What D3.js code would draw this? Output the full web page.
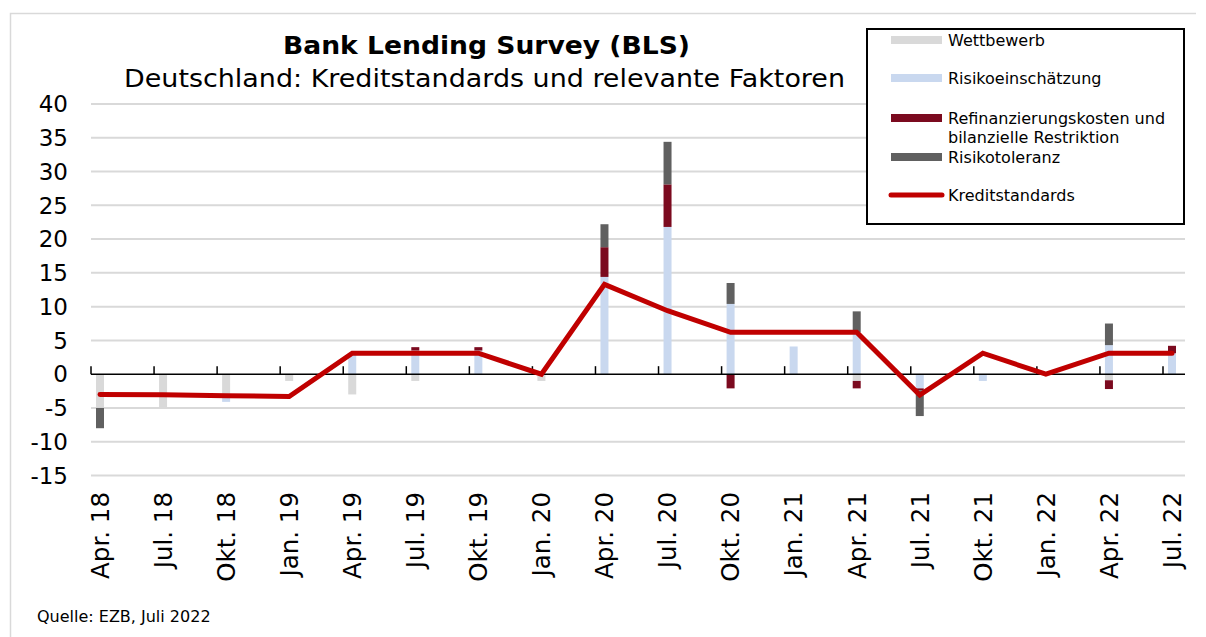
<!DOCTYPE html>
<html>
<head>
<meta charset="utf-8">
<title>Bank Lending Survey</title>
<style>
body { margin: 0; background: #fff; }
text { font-family: Verdana, "DejaVu Sans", sans-serif; fill: #000; }
</style>
</head>
<body>
<script src="https://cdn.jsdelivr.net/npm/d3@7/dist/d3.min.js"></script>
<script>

var categories = ["Apr. 18", "Jul. 18", "Okt. 18", "Jan. 19", "Apr. 19", "Jul. 19", "Okt. 19", "Jan. 20", "Apr. 20",
                  "Jul. 20", "Okt. 20", "Jan. 21", "Apr. 21", "Jul. 21", "Okt. 21", "Jan. 22", "Apr. 22", "Jul. 22"];

var wettbewerb      = [-5, -5, -3.5, -1, -3, -1, 0, -1, 0, 0, 0, 0, -1, 0, 0, 0, -0.9, 0];
var risikoeinsch    = [0, 0, -0.6, 0, 3.1, 3.5, 3.5, 0, 14.4, 21.8, 10.4, 4.1, 6.2, -2.1, -1, 0, 4.3, 3.1];
var refinanzierung  = [0, 0, 0, 0, 0, 0.5, 0.5, 0, 4.4, 6.3, -2.1, 0, -1.1, -0.3, 0, 0, -1.3, 1.1];
var risikotoleranz  = [-3, 0, 0, 0, 0, 0, 0, 0, 3.4, 6.3, 3.1, 0, 3.1, -3.8, 0, 0, 3.2, 0];
var kreditstandards = [-3, -3.05, -3.2, -3.3, 3.1, 3.1, 3.1, 0, 13.3, 9.4, 6.2, 6.2, 6.2, -3.1, 3.1, 0, 3.1, 3.1];

var yTicks = [-15, -10, -5, 0, 5, 10, 15, 20, 25, 30, 35, 40];

var series = [
  {key: "wett", name: "Wettbewerb", color: "#d9d9d9", values: wettbewerb},
  {key: "risk", name: "Risikoeinschätzung", color: "#c9d8ef", values: risikoeinsch},
  {key: "refi", name: ["Refinanzierungskosten und", "bilanzielle Restriktion"], color: "#7b0a1f", values: refinanzierung},
  {key: "tol", name: "Risikotoleranz", color: "#606060", values: risikotoleranz}
];

var width = 1206, height = 637;

var svg = d3.select("body").append("svg")
    .attr("width", width)
    .attr("height", height);

// outer frame (left + top only visible)
svg.append("path")
    .attr("d", "M10.5,640 L10.5,13.5 L1196,13.5")
    .attr("fill", "none")
    .attr("stroke", "#d9d9d9")
    .attr("stroke-width", 1.5);

var x = d3.scalePoint().domain(categories).range([100, 1172]);
var y = d3.scaleLinear().domain([-15, 40]).range([475.5, 104]);
var plotLeft = 91, plotRight = 1185;

// gridlines
svg.append("g")
  .selectAll("line")
  .data(yTicks.filter(function(d) { return d != 0; }))
  .enter().append("line")
    .attr("x1", plotLeft).attr("x2", plotRight)
    .attr("y1", function(d) { return y(d); })
    .attr("y2", function(d) { return y(d); })
    .attr("stroke", "#d9d9d9")
    .attr("stroke-width", 2);

// y labels
svg.append("g")
  .selectAll("text")
  .data(yTicks)
  .enter().append("text")
    .attr("x", 68)
    .attr("y", function(d) { return y(d); })
    .attr("dy", "0.36em")
    .attr("text-anchor", "end")
    .style("font-size", "23px")
    .text(function(d) { return d; });

// stacked bars
var table = categories.map(function(c, i) {
  var row = {cat: c};
  series.forEach(function(s) { row[s.key] = s.values[i]; });
  return row;
});

var stack = d3.stack()
    .keys(series.map(function(s) { return s.key; }))
    .offset(d3.stackOffsetDiverging);

var layers = stack(table);

svg.append("g")
  .selectAll("g")
  .data(layers)
  .enter().append("g")
    .attr("fill", function(d, i) { return series[i].color; })
  .selectAll("rect")
  .data(function(d) { return d; })
  .enter().append("rect")
    .attr("x", function(d) { return x(d.data.cat) - 4; })
    .attr("width", 8)
    .attr("y", function(d) { return y(Math.max(d[0], d[1])); })
    .attr("height", function(d) { return Math.abs(y(d[0]) - y(d[1])); });

// zero axis with ticks
svg.append("line")
    .attr("x1", plotLeft).attr("x2", plotRight)
    .attr("y1", y(0)).attr("y2", y(0))
    .attr("stroke", "#000")
    .attr("stroke-width", 1.5);

svg.append("g")
  .selectAll("line")
  .data(categories)
  .enter().append("line")
    .attr("x1", function(d) { return x(d) - 9; })
    .attr("x2", function(d) { return x(d) - 9; })
    .attr("y1", y(0))
    .attr("y2", y(0) - 8)
    .attr("stroke", "#000")
    .attr("stroke-width", 1.5);

// x labels
svg.append("g")
  .selectAll("text")
  .data(categories)
  .enter().append("text")
    .attr("transform", function(d) { return "translate(" + x(d) + ",492) rotate(-90)"; })
    .attr("dy", "0.36em")
    .attr("text-anchor", "end")
    .style("font-size", "24.5px")
    .text(function(d) { return d; });

// line
var line = d3.line()
    .x(function(d, i) { return x(categories[i]); })
    .y(function(d) { return y(d); });

svg.append("path")
    .datum(kreditstandards)
    .attr("d", line)
    .attr("fill", "none")
    .attr("stroke", "#c00000")
    .attr("stroke-width", 5)
    .attr("stroke-linecap", "round");

// titles
svg.append("text")
    .attr("x", 283).attr("y", 54)
    .attr("textLength", 407)
    .attr("lengthAdjust", "spacingAndGlyphs")
    .style("font-size", "24px")
    .style("font-weight", "bold")
    .text("Bank Lending Survey (BLS)");

svg.append("text")
    .attr("x", 124).attr("y", 87)
    .attr("textLength", 721)
    .attr("lengthAdjust", "spacingAndGlyphs")
    .style("font-size", "24px")
    .text("Deutschland: Kreditstandards und relevante Faktoren");

// legend
var legend = svg.append("g");
legend.append("rect")
    .attr("x", 867).attr("y", 29)
    .attr("width", 317).attr("height", 195)
    .attr("fill", "#fff")
    .attr("stroke", "#000")
    .attr("stroke-width", 2);

var legendY = [40, 78, 118, 157];
series.forEach(function(s, i) {
  legend.append("rect")
      .attr("x", 891).attr("y", legendY[i] - 4)
      .attr("width", 51).attr("height", 8)
      .attr("fill", s.color);
  var names = Array.isArray(s.name) ? s.name : [s.name];
  names.forEach(function(n, j) {
    legend.append("text")
        .attr("x", 948).attr("y", legendY[i] + j * 19)
        .attr("dy", "0.35em")
        .style("font-size", "16px")
        .text(n);
  });
});

legend.append("line")
    .attr("x1", 891).attr("x2", 942)
    .attr("y1", 195).attr("y2", 195)
    .attr("stroke", "#c00000")
    .attr("stroke-width", 5)
    .attr("stroke-linecap", "round");
legend.append("text")
    .attr("x", 948).attr("y", 195)
    .attr("dy", "0.35em")
    .style("font-size", "16px")
    .text("Kreditstandards");

// source
svg.append("text")
    .attr("x", 37).attr("y", 622)
    .style("font-size", "16px")
    .text("Quelle: EZB, Juli 2022");

</script>
</body>
</html>
